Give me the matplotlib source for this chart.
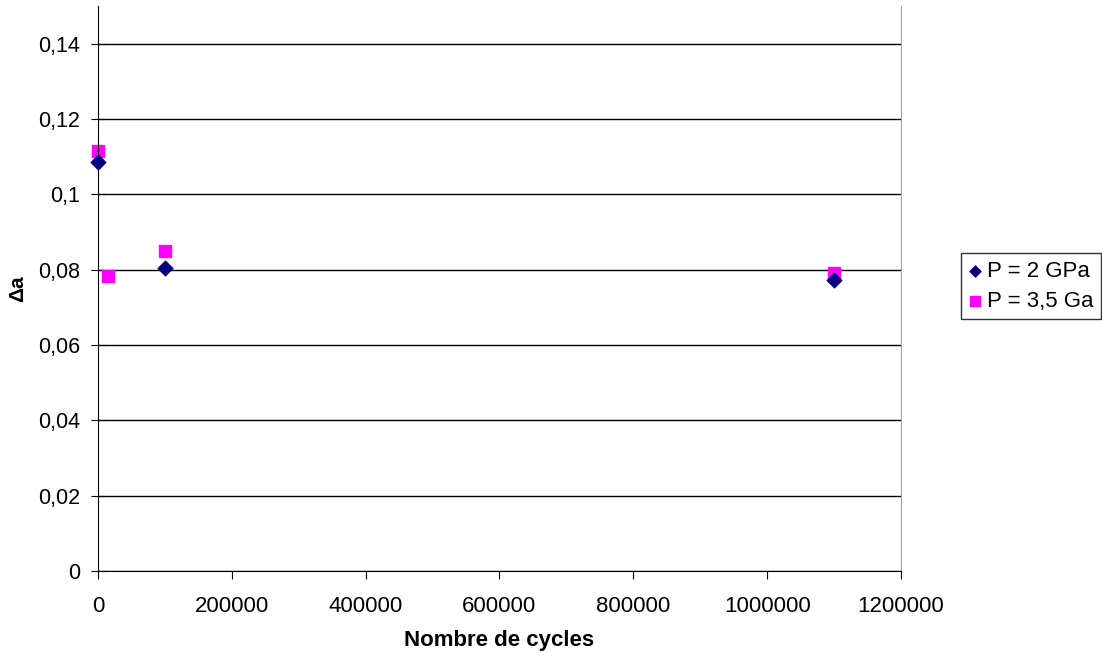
import matplotlib.pyplot as plt
from matplotlib.ticker import FuncFormatter, MultipleLocator

# Data
cycles_2gpa = [0, 100000, 1100000]
da_2gpa = [0.1085, 0.0805, 0.0773]

cycles_35 = [0, 15000, 100000, 1100000]
da_35 = [0.1114, 0.0782, 0.0849, 0.0791]

plt.rcParams['font.family'] = ['Liberation Sans', 'DejaVu Sans']

fig = plt.figure(figsize=(11.02, 6.58), dpi=100)
ax = fig.add_axes([0.0889, 0.1322, 0.7287, 0.8587])

ax.scatter(cycles_2gpa, da_2gpa, marker='D', s=55, color='#000080', label='P = 2 GPa',
           zorder=3, clip_on=False)
ax.scatter(cycles_35, da_35, marker='s', s=85, color='#FF00FF', label='P = 3,5 Ga',
           zorder=2, clip_on=False)

ax.set_xlim(0, 1200000)
ax.set_ylim(0, 0.15)
ax.xaxis.set_major_locator(MultipleLocator(200000))
ax.yaxis.set_major_locator(MultipleLocator(0.02))
ax.xaxis.set_major_formatter(FuncFormatter(lambda v, p: '%d' % v))
ax.yaxis.set_major_formatter(FuncFormatter(lambda v, p: ('%g' % round(v, 2)).replace('.', ',')))

ax.grid(axis='y', color='black', linewidth=1)
ax.set_axisbelow(True)
ax.spines['top'].set_visible(False)
ax.spines['right'].set_color('#A0A0A0')
ax.tick_params(axis='y', direction='inout', length=10, labelsize=15.5, pad=8)
ax.tick_params(axis='x', direction='out', length=6, labelsize=16, pad=12)

ax.set_xlabel('Nombre de cycles', fontsize=16, fontweight='bold', labelpad=9)
ax.set_ylabel('Δa', fontsize=15, fontweight='bold', labelpad=8)

leg = ax.legend(loc='center left', bbox_to_anchor=(1.075, 0.504), fontsize=16, frameon=True,
                fancybox=False, edgecolor='black', handlelength=0.5, handletextpad=0.3,
                borderpad=0.35, labelspacing=0.4, markerscale=0.75, borderaxespad=0)
leg.get_frame().set_linewidth(1)

fig.savefig('out.png', dpi=100)
